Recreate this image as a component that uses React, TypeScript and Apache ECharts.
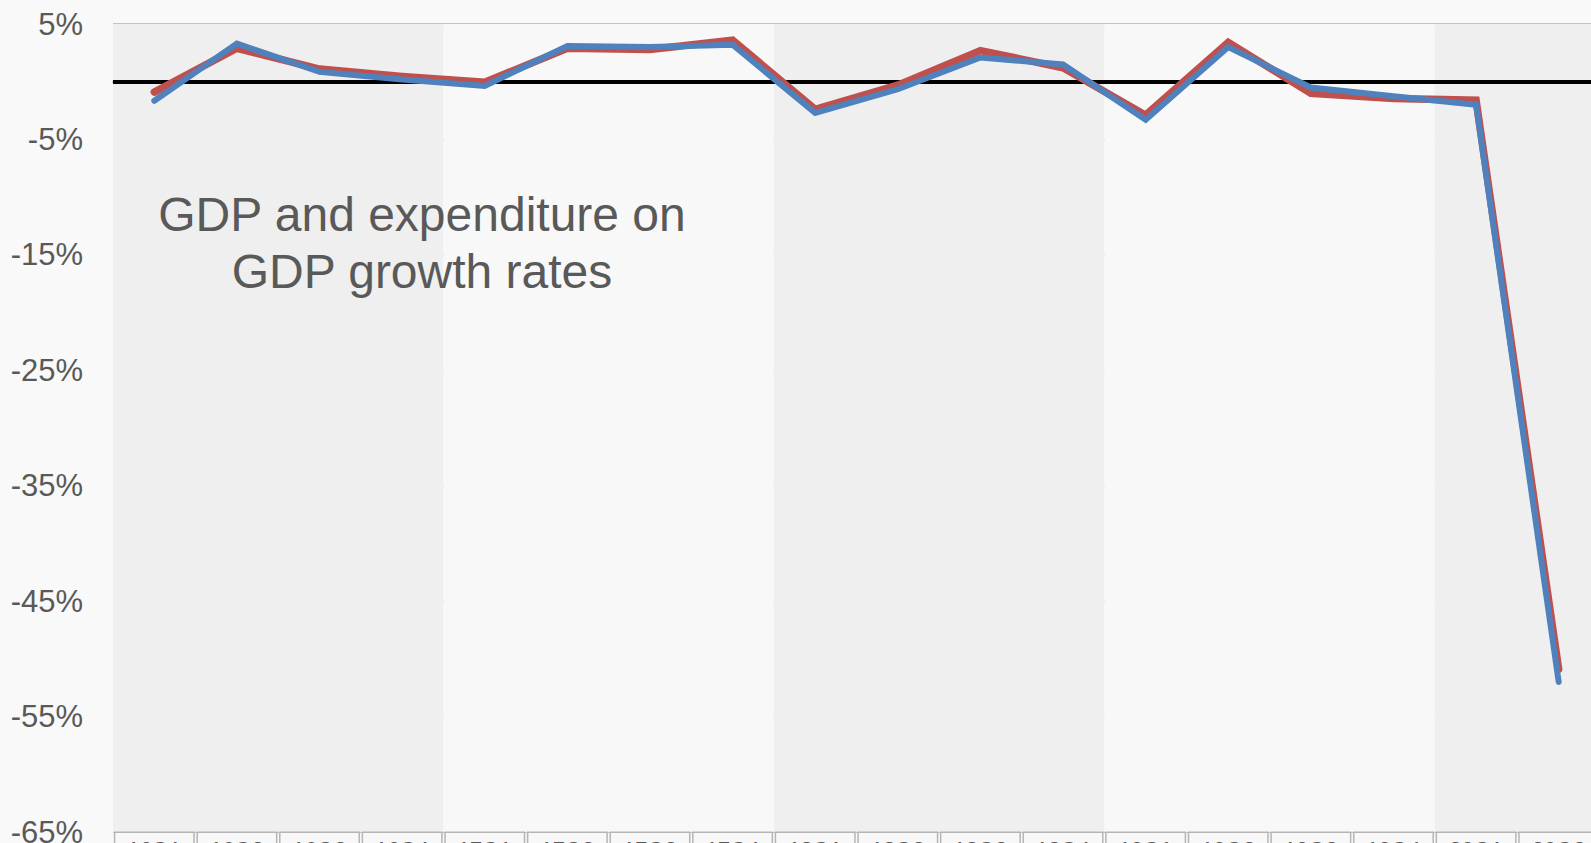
import React, { useEffect, useRef } from "react";
import * as echarts from "echarts";

const categories = [
  "16Q1", "16Q2", "16Q3", "16Q4",
  "17Q1", "17Q2", "17Q3", "17Q4",
  "18Q1", "18Q2", "18Q3", "18Q4",
  "19Q1", "19Q2", "19Q3", "19Q4",
  "20Q1", "20Q2",
];

// red series (drawn underneath)
const gdpGrowth = [
  -0.9, 2.9, 1.1, 0.45,
  -0.05, 2.9, 2.8, 3.6,
  -2.4, -0.3, 2.7, 1.2,
  -2.9, 3.4, -1.0, -1.45,
  -1.6, -50.9,
];

// blue series (drawn on top)
const expenditureGrowth = [
  -1.65, 3.3, 0.85, 0.2,
  -0.36, 3.1, 3.0, 3.2,
  -2.7, -0.65, 2.1, 1.5,
  -3.3, 3.0, -0.5, -1.25,
  -2.0, -52.0,
];

const yMin = -65;
const yMax = 5;
const yStep = 10;

const titleLines = ["GDP and expenditure on", "GDP growth rates"];

const FONT = "'Liberation Sans', Arial, sans-serif";
const TEXT_GREY = "#595959";

export default function App() {
  const ref = useRef<HTMLDivElement>(null);

  useEffect(() => {
    if (!ref.current) return;
    const chart = echarts.init(ref.current, undefined, { renderer: "svg" });
    chart.setOption({
      animation: false,
      backgroundColor: "#f9f9f9",
      textStyle: { fontFamily: FONT },
      grid: {
        left: 113,
        top: 24,
        width: 1487,
        height: 808,
        containLabel: false,
        outerBoundsMode: "none",
      },
      xAxis: {
        type: "category",
        data: categories,
        boundaryGap: true,
        axisLine: { show: true, lineStyle: { color: "#bdbdbd", width: 2 } },
        axisTick: { show: false },
        splitLine: { show: false },
        splitArea: {
          show: true,
          interval: 3,
          areaStyle: { color: ["#efefef", "#f8f8f8"] },
        },
        axisLabel: {
          interval: () => true,
          margin: 1,
          color: TEXT_GREY,
          fontFamily: FONT,
          fontSize: 22,
          lineHeight: 22,
          width: 78,
          height: 40,
          align: "center",
          verticalAlign: "top",
          padding: [5, 0, 0, 0],
          backgroundColor: "#f8f8f8",
          borderColor: "#b5b5b5",
          borderWidth: 1.5,
        },
      },
      yAxis: {
        type: "value",
        min: yMin,
        max: yMax,
        interval: yStep,
        axisLine: { show: false },
        axisTick: { show: false },
        splitLine: { show: true, lineStyle: { color: "#c4c4c4", width: 2 } },
        axisLabel: {
          formatter: "{value}%",
          color: TEXT_GREY,
          fontFamily: FONT,
          fontSize: 31,
          margin: 30,
        },
      },
      graphic: [
        {
          type: "text",
          x: 422,
          y: 186,
          z: 10,
          style: {
            text: titleLines.join("\n"),
            fill: TEXT_GREY,
            font: `48px ${FONT}`,
            lineHeight: 57,
            align: "center",
            verticalAlign: "top",
          },
        },
      ],
      series: [
        {
          name: "GDP",
          type: "line",
          data: gdpGrowth,
          showSymbol: false,
          symbol: "none",
          z: 3,
          lineStyle: { color: "#c0504d", width: 7.5, cap: "round", join: "miter" },
          markLine: {
            silent: true,
            symbol: ["none", "none"],
            z: 1,
            label: { show: false },
            lineStyle: { color: "#000000", width: 4, type: "solid" },
            data: [{ yAxis: 0 }],
          },
        },
        {
          name: "Expenditure on GDP",
          type: "line",
          data: expenditureGrowth,
          showSymbol: false,
          symbol: "none",
          z: 4,
          lineStyle: { color: "#4f81bd", width: 6, cap: "round", join: "miter" },
        },
      ],
    });
    return () => chart.dispose();
  }, []);

  return (
    <div
      style={{
        position: "fixed",
        left: 0,
        top: 0,
        width: "100vw",
        height: "100vh",
        overflow: "hidden",
        background: "#f9f9f9",
      }}
    >
      <div ref={ref} style={{ width: 1610, height: 843 }} />
    </div>
  );
}
